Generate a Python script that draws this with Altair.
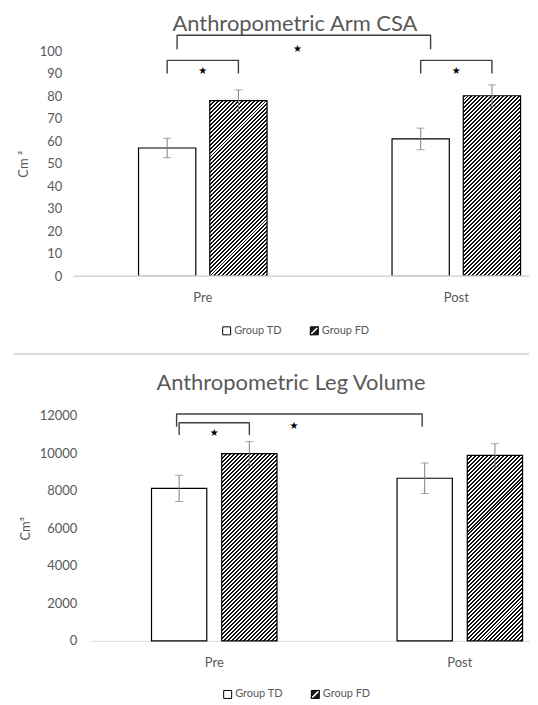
import math
import altair as alt
import pandas as pd

# ---------------- data ----------------
times = ["Pre", "Post"]
groups = ["Group TD", "Group FD"]

arm_td = [57.0, 61.0]
arm_td_err = [4.3, 4.8]
arm_fd = [78.0, 80.2]
arm_fd_err = [4.8, 4.8]

leg_td = [8130, 8670]
leg_td_err = [700, 815]
leg_fd = [9980, 9890]
leg_fd_err = [640, 620]

arm_ticks = [0, 10, 20, 30, 40, 50, 60, 70, 80, 90, 100]
leg_ticks = [0, 2000, 4000, 6000, 8000, 10000, 12000]

# significance brackets (arm)
arm_small_id = ["pre", "pre", "pre", "pre", "post", "post", "post", "post"]
arm_small_time = ["Pre", "Pre", "Pre", "Pre", "Post", "Post", "Post", "Post"]
arm_small_group = ["Group TD", "Group TD", "Group FD", "Group FD",
                   "Group TD", "Group TD", "Group FD", "Group FD"]
arm_small_val = [90.1, 95.9, 95.9, 90.1, 90.1, 95.9, 95.9, 90.1]
arm_big_time = ["Pre", "Pre", "Post", "Post"]
arm_big_val = [100.9, 107.1, 107.1, 100.9]
arm_star_time = ["Pre", "Post"]
arm_star_val = [91.3, 91.3]
arm_bigstar_time = ["Pre"]
arm_bigstar_val = [101.0]

# significance brackets (leg)
leg_small_id = ["pre", "pre", "pre", "pre"]
leg_small_time = ["Pre", "Pre", "Pre", "Pre"]
leg_small_group = ["Group TD", "Group TD", "Group FD", "Group FD"]
leg_small_val = [10976, 11629, 11629, 10976]
leg_big_time = ["Pre", "Pre", "Post", "Post"]
leg_big_val = [11417, 12091, 12091, 11417]
leg_star_time = ["Pre"]
leg_star_val = [11098]
leg_bigstar_time = ["Pre"]
leg_bigstar_val = [11470]

# ---------------- styling ----------------
TXT = "#595959"
FONT = "Lato"
ERR = "#7f7f7f"
BR = "#404040"
AXIS_LINE = "#d9d9d9"
HATCH_SYM = ("M-1,-1L1,-1L1,1L-1,1Z "
             "M-1,0.58L-1,1L-0.58,1L1,-0.58L1,-1L0.58,-1Z")
W = 440
H = 226


def bars_df(td, td_err, fd, fd_err):
    rows = []
    for i, t in enumerate(times):
        rows.append(dict(time=t, group=groups[0], value=td[i],
                         lo=td[i] - td_err[i], hi=td[i] + td_err[i]))
        rows.append(dict(time=t, group=groups[1], value=fd[i],
                         lo=fd[i] - fd_err[i], hi=fd[i] + fd_err[i]))
    return pd.DataFrame(rows)


def hatch(w, h, hperiod=4.0, dark="#111111", duty=0.5):
    """Diagonal (45 deg) stripes as a hard-stop linear gradient in bbox units."""
    r = w / h
    k = 1.005 * (r + 1) / (r * r + 1)       # just covers the far corner
    span = h * k * (r * r + 1) / math.sqrt(2)
    n = int(round(span / (hperiod / math.sqrt(2))))
    stops = []
    for i in range(n):
        a = i / n
        b = (i + duty) / n
        c = (i + 1) / n
        stops += [dict(offset=a, color=dark), dict(offset=b, color=dark),
                  dict(offset=b, color="white"), dict(offset=c, color="white")]
    return alt.LinearGradient(gradient="linear", stops=stops,
                              x1=0, y1=0, x2=k * r, y2=k)


def panel(title, title_dx, title_off, df, ticks, ymax, ytitle,
          pinner, pouter, align, off_inner, label_pad, title_pad, xlab_pad,
          small, big, big_band, stars, bigstar, bigstar_dx,
          legend_x, legend_y, separator, domain_start):
    xscale = alt.Scale(domain=times, paddingInner=pinner,
                       paddingOuter=pouter, align=align)
    xaxis = alt.Axis(title=None, labelAngle=0, ticks=False, grid=False,
                     domain=(domain_start == 0),
                     domainColor=AXIS_LINE, domainWidth=1,
                     labelColor=TXT, labelFont=FONT, labelFontSize=13,
                     labelPadding=xlab_pad)
    xoscale = alt.Scale(domain=groups, paddingInner=off_inner, paddingOuter=0)
    yscale = alt.Scale(domain=[0, ymax])
    yaxis = alt.Axis(title=ytitle, values=ticks, format="d", grid=False,
                     ticks=False, domain=False, labelColor=TXT,
                     labelFont=FONT, labelFontSize=13, labelPadding=label_pad,
                     labelOverlap=False,
                     titleColor=TXT, titleFont=FONT, titleFontSize=13,
                     titleFontWeight="normal", titlePadding=title_pad)

    # pixel size of a bar (for a 45-degree hatch)
    step = W / (2 - pinner + 2 * pouter)
    band = step * (1 - pinner)
    bar_w = band * (1 - off_inner) / (2 - off_inner)

    def X(**kw):
        return alt.X("time:N", scale=xscale, axis=xaxis, sort=times, **kw)

    def XO():
        return alt.XOffset("group:N", scale=xoscale, sort=groups)

    def Y(field):
        return alt.Y(field, scale=yscale, axis=yaxis)

    base = alt.Chart(df)
    legend = alt.Legend(title=None, orient="none", legendX=legend_x,
                        legendY=legend_y, direction="horizontal",
                        symbolSize=64, symbolStrokeWidth=1,
                        labelColor=TXT, labelFont=FONT,
                        labelFontSize=11, labelOffset=2, columnPadding=26)

    # hidden markers (behind the bars) that carry the legend
    hidden = base.transform_calculate(mid="datum.value / 2").mark_point(
        filled=True, size=64, strokeWidth=1, opacity=1
    ).encode(
        x=X(), xOffset=XO(), y=Y("mid:Q"),
        fill=alt.Fill("group:N", scale=alt.Scale(domain=groups,
                      range=["white", "#1a1a1a"]), legend=legend),
        shape=alt.Shape("group:N", scale=alt.Scale(domain=groups,
                        range=["square", HATCH_SYM]), legend=legend),
        stroke=alt.Stroke("group:N", scale=alt.Scale(domain=groups,
                          range=["black", "black"]), legend=legend),
    )

    td_bars = base.transform_filter(alt.datum.group == groups[0]).mark_bar(
        fill="white", stroke="black", strokeWidth=1.2
    ).encode(x=X(), xOffset=XO(), y=Y("value:Q"))

    fd_layers = []
    for _, row in df[df.group == groups[1]].iterrows():
        h_px = row.value / ymax * H
        fd_layers.append(
            base.transform_filter(
                (alt.datum.group == groups[1]) & (alt.datum.time == row.time)
            ).mark_bar(
                fill=hatch(bar_w, h_px), stroke="black", strokeWidth=1.2
            ).encode(x=X(), xOffset=XO(), y=Y("value:Q"))
        )

    err = base.mark_rule(color=ERR, strokeWidth=1).encode(
        x=X(), xOffset=XO(), y=Y("lo:Q"), y2="hi:Q")
    cap_lo = base.mark_tick(color=ERR, orient="horizontal", size=8,
                            thickness=1).encode(x=X(), xOffset=XO(),
                                                y=Y("lo:Q"))
    cap_hi = base.mark_tick(color=ERR, orient="horizontal", size=8,
                            thickness=1).encode(x=X(), xOffset=XO(),
                                                y=Y("hi:Q"))

    s_id, s_time, s_group, s_val = small
    small_df = pd.DataFrame(dict(id=s_id, time=s_time, group=s_group,
                                 val=s_val, k=[i % 4 for i in range(len(s_id))]))
    small_br = alt.Chart(small_df).mark_line(
        color=BR, strokeWidth=1.4, strokeJoin="round"
    ).encode(x=X(), xOffset=XO(), y=Y("val:Q"), detail="id:N",
             order=alt.Order("k:Q"))

    b_time, b_val = big
    big_df = pd.DataFrame(dict(time=b_time, val=b_val, k=list(range(len(b_time)))))
    big_br = alt.Chart(big_df).mark_line(
        color=BR, strokeWidth=1.4, strokeJoin="round"
    ).encode(x=X(bandPosition=big_band), y=Y("val:Q"), order=alt.Order("k:Q"))

    st_time, st_val = stars
    star_df = pd.DataFrame(dict(time=st_time, val=st_val, s=["★"] * len(st_time)))
    star = alt.Chart(star_df).mark_text(
        font="DejaVu Sans", fontSize=10, color="black", baseline="middle"
    ).encode(x=X(), y=Y("val:Q"), text="s:N")

    bs_time, bs_val = bigstar
    bstar_df = pd.DataFrame(dict(time=bs_time, val=bs_val, s=["★"] * len(bs_time)))
    bstar = alt.Chart(bstar_df).mark_text(
        font="DejaVu Sans", fontSize=10, color="black", baseline="middle",
        dx=bigstar_dx
    ).encode(x=X(), y=Y("val:Q"), text="s:N")

    layers = [hidden, td_bars] + fd_layers + [err, cap_lo, cap_hi,
                                              small_br, big_br, star, bstar]
    if domain_start != 0:
        base_line = alt.Chart(df).mark_rule(color=AXIS_LINE, strokeWidth=1).encode(
            x=alt.value(domain_start), x2=alt.value(W),
            y=alt.YDatum(0, scale=yscale, axis=yaxis))
        layers.append(base_line)
    if separator:
        sep = alt.Chart(df).mark_rule(color=AXIS_LINE, strokeWidth=1).encode(
            x=alt.value(-77), x2=alt.value(W), y=alt.value(H + 78))
        layers.append(sep)

    return alt.layer(*layers).properties(
        width=W, height=H,
        title=alt.TitleParams(title, font=FONT, fontSize=22, color=TXT,
                              fontWeight="normal", anchor="middle",
                              frame="group", dx=title_dx, offset=title_off),
    )


arm = panel(
    "Anthropometric Arm CSA", -15, -2,
    bars_df(arm_td, arm_td_err, arm_fd, arm_fd_err),
    arm_ticks, 100, "Cm ²",
    0.493, 0.111, 0.85, 0.196, 29, 9, 15,
    (arm_small_id, arm_small_time, arm_small_group, arm_small_val),
    (arm_big_time, arm_big_val), 0.3,
    (arm_star_time, arm_star_val), (arm_bigstar_time, arm_bigstar_val), 95,
    131, 275, True, -17,
)

leg = panel(
    "Anthropometric Leg Volume", -19, 15,
    bars_df(leg_td, leg_td_err, leg_fd, leg_fd_err),
    leg_ticks, 12000, "Cm³",
    0.489, 0.137, 0.904, 0.213, 14, 7, 16,
    (leg_small_id, leg_small_time, leg_small_group, leg_small_val),
    (leg_big_time, leg_big_val), 0.2,
    (leg_star_time, leg_star_val), (leg_bigstar_time, leg_bigstar_val), 80,
    132, 274, False, 0,
)

chart = alt.concat(arm, leg, columns=1, spacing=17).resolve_scale(
    xOffset="independent",
    fill="independent", shape="independent", stroke="independent"
).resolve_legend(
    fill="independent", shape="independent", stroke="independent"
).properties(
    padding={"left": 5, "top": 4, "right": 0, "bottom": 0}
).configure_view(stroke=None)

chart.save("out.html", embed_options={"renderer": "svg", "actions": False})
